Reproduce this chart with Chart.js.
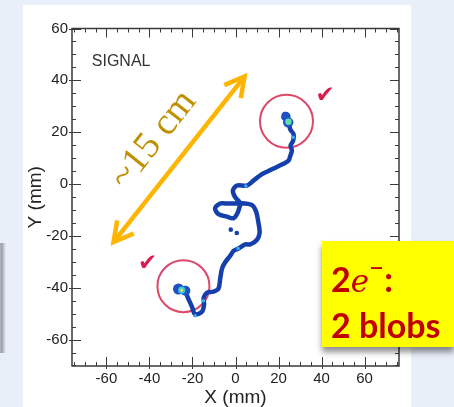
<!DOCTYPE html>
<html>
<head>
<meta charset="utf-8">
<script src="https://cdn.jsdelivr.net/npm/chart.js@4.4.1/dist/chart.umd.min.js"></script>
<style>
  html, body { margin: 0; padding: 0; }
  body { width: 454px; height: 407px; background: #e9eff9; position: relative; overflow: hidden; }
  .panel { position: absolute; left: 23px; top: 5px; width: 388px; height: 402px; background: #fff; }
  .edge { position: absolute; left: 0; top: 243px; width: 6px; height: 110px;
    background: linear-gradient(to right, #b4b8be, #9ca0a6 30%, #d6dbe3 80%, #e9eff9); }
  #wrap { position: absolute; left: 0; top: 0; width: 454px; height: 407px; }
  .note { position: absolute; left: 322px; top: 241px; width: 132px; height: 106px; box-sizing: border-box;
    background: #ffff00; box-shadow: 0 5px 6px rgba(0, 0, 0, 0.45);
    padding: 7px 0 0 9px; font: bold 34px/44px Lato, sans-serif; color: #c00000; white-space: nowrap; }
  .note i { font-family: 'DejaVu Serif', serif; font-weight: normal; font-size: 31px; }
  .note sup { font-size: 26px; font-weight: normal; position: relative; top: -3px; }
</style>
</head>
<body>
<div class="panel"></div>
<div class="edge"></div>
<div id="wrap"><canvas id="trackChart" width="454" height="407"></canvas></div>
<div class="note">2<i>e</i><sup>−</sup>:<br>2 blobs</div>

<script>
const xTicks = [-60, -40, -20, 0, 20, 40, 60]
const yTicks = [-60, -40, -20, 0, 20, 40, 60]
const xRange = [-76, 76]
const yRange = [-70.2, 60]

// track (mm), lower blob -> upper blob
const trackX = [-25.0, -23.4, -21.9, -20.3, -18.8, -15.6, -14.6, -14.8, -13.2, -10.2, -7.9, -7.1, -6.3, -4.8, -2.5, -0.9,
  1.4, 4.5, 6.8, 9.9, 11.2, 10.7, 9.6, 7.8, 4.5, -0.2, -4.8, -7.1, -9.5, -7.9, -4.0, -0.9, 0.9, 1.9, 2.2, -0.2, -1.2, 0.6,
  5.3, 8.6, 12.3, 15.3, 19.2, 22.3, 24.7, 25.4, 26.2, 25.6, 26.8, 27.0, 25.5, 25.0, 24.6, 23.6, 22.8]
const trackY = [-40.9, -41.5, -44.3, -47.2, -50.2, -49.3, -46.5, -43.8, -41.9, -41.5, -40.3, -36.5, -32.7, -30.2, -27.7, -25.8,
  -24.9, -23.3, -23.3, -21.6, -18.9, -15.1, -10.7, -8.2, -7.5, -7.5, -7.5, -7.5, -9.4, -11.6, -12.6, -13.2, -11.3, -8.8, -7.3, -5.0, -2.5, -0.6,
  -0.6, 1.5, 3.8, 5.0, 6.6, 7.8, 9.1, 10.7, 12.9, 14.8, 16.7, 19.2, 21.0, 22.8, 24.0, 25.8, 27.0]

// loose deposits next to the track
const dotX = [-2.2, 0.6]
const dotY = [-17.6, -18.9]

// blobs: blue body, cyan ring, hot core
const blobOuterX = [-26.5, -23.3, 23.4, 24.5]
const blobOuterY = [-40.5, -41.2, 26.0, 23.8]
const blobInnerX = [-25.0, 24.6]
const blobInnerY = [-40.9, 24.0]
const blobCoreX = [-25.0]
const blobCoreY = [-40.9]
const speckX = [-18.8, 1.2, 4.8, 26.8, -14.9]
const speckY = [-50.8, -24.9, -0.8, 18.0, -45.0]

// annotations
const circleX = [-24.2, 23.7]
const circleY = [-39.4, 24.2]
const checkX = [-40.8, 41.7]
const checkY = [-30.8, 34.0]
const arrowX = [-56.7, 4.2]
const arrowY = [-22.4, 41.5]
const arrowLabel = '~15 cm'
const arrowLabelPos = [-38.0, 17.0]
const signalText = 'SIGNAL'
const signalPos = [-66.8, 47.2]

const pts = (xs, ys) => xs.map((v, i) => ({ x: v, y: ys[i] }))

const overlay = {
  id: 'overlay',
  beforeDatasetsDraw(chart) {
    const { ctx, chartArea: a, scales: { x, y } } = chart
    ctx.save()
    ctx.strokeStyle = '#3a3a3a'
    ctx.lineWidth = 1.5
    ctx.strokeRect(a.left, a.top, a.right - a.left, a.bottom - a.top)
    ctx.lineWidth = 1
    ctx.beginPath()
    // ticks every 5 mm, long ones on the labelled values
    for (let v = Math.ceil(xRange[0] / 5) * 5; v <= xRange[1]; v += 5) {
      const px = Math.round(x.getPixelForValue(v)) + 0.5
      const major = xTicks.includes(v)
      const len = major ? 9 : 4
      ctx.moveTo(px, a.bottom + (major ? 3 : 0))
      ctx.lineTo(px, a.bottom - len)
      ctx.moveTo(px, a.top)
      ctx.lineTo(px, a.top + len)
    }
    for (let v = Math.ceil(yRange[0] / 5) * 5; v <= yRange[1]; v += 5) {
      const py = Math.round(y.getPixelForValue(v)) + 0.5
      const major = yTicks.includes(v)
      const len = major ? 9 : 4
      ctx.moveTo(a.left - (major ? 3 : 0), py)
      ctx.lineTo(a.left + len, py)
      ctx.moveTo(a.right, py)
      ctx.lineTo(a.right - len, py)
    }
    ctx.stroke()

    ctx.font = '16px "Liberation Sans"'
    ctx.fillStyle = '#333'
    ctx.textAlign = 'left'
    ctx.textBaseline = 'middle'
    ctx.fillText(signalText, x.getPixelForValue(signalPos[0]), y.getPixelForValue(signalPos[1]))
    ctx.restore()
  },
  afterDatasetsDraw(chart) {
    const { ctx, scales: { x, y } } = chart
    const p0 = [x.getPixelForValue(arrowX[0]), y.getPixelForValue(arrowY[0])]
    const p1 = [x.getPixelForValue(arrowX[1]), y.getPixelForValue(arrowY[1])]
    const ang = Math.atan2(p1[1] - p0[1], p1[0] - p0[0])
    ctx.save()
    ctx.strokeStyle = '#ffb400'
    ctx.lineWidth = 4.5
    ctx.lineJoin = 'miter'
    ctx.beginPath()
    ctx.moveTo(p0[0] + 2 * Math.cos(ang), p0[1] + 2 * Math.sin(ang))
    ctx.lineTo(p1[0] - 2 * Math.cos(ang), p1[1] - 2 * Math.sin(ang))
    ctx.stroke()
    const head = (tip, dir) => {
      const arm = 22
      ctx.beginPath()
      ctx.moveTo(tip[0] - arm * Math.cos(dir - 0.5), tip[1] - arm * Math.sin(dir - 0.5))
      ctx.lineTo(tip[0], tip[1])
      ctx.lineTo(tip[0] - arm * Math.cos(dir + 0.5), tip[1] - arm * Math.sin(dir + 0.5))
      ctx.stroke()
    }
    head(p1, ang)
    head(p0, ang + Math.PI)

    ctx.translate(x.getPixelForValue(arrowLabelPos[0]), y.getPixelForValue(arrowLabelPos[1]))
    ctx.rotate(ang)
    ctx.font = '38px "Liberation Serif"'
    ctx.fillStyle = '#bf9000'
    ctx.textAlign = 'center'
    ctx.textBaseline = 'middle'
    ctx.fillText(arrowLabel, 0, 0)
    ctx.restore()

    ctx.save()
    ctx.font = '23px "DejaVu Sans"'
    ctx.fillStyle = '#d81e4f'
    ctx.textAlign = 'center'
    ctx.textBaseline = 'middle'
    checkX.forEach((v, i) => ctx.fillText('✔', x.getPixelForValue(v), y.getPixelForValue(checkY[i])))
    ctx.restore()
  }
}

new Chart(document.getElementById('trackChart'), {
  type: 'scatter',
  data: {
    datasets: [
      { data: pts(blobCoreX, blobCoreY), pointRadius: 1.6, pointBorderWidth: 0, pointBackgroundColor: '#f0e040' },
      { data: pts(blobInnerX, blobInnerY), pointRadius: [3.6, 3.2], pointBorderWidth: 0, pointBackgroundColor: ['#35c8e0', '#5ee0a8'] },
      { data: pts(blobOuterX, blobOuterY), pointRadius: [5.5, 5, 4.8, 5.2], pointBorderWidth: 0, pointBackgroundColor: '#1e52c4' },
      { data: pts(speckX, speckY), pointRadius: 1.8, pointBorderWidth: 0, pointBackgroundColor: '#3fa8ec' },
      {
        data: pts(trackX, trackY),
        showLine: true,
        borderColor: '#1540ac',
        borderWidth: 4.5,
        borderCapStyle: 'round',
        borderJoinStyle: 'round',
        tension: 0.3,
        pointRadius: 0
      },
      { data: pts(dotX, dotY), pointRadius: 2.3, pointBorderWidth: 0, pointBackgroundColor: '#1540ac' },
      {
        data: pts(circleX, circleY),
        pointRadius: [26, 26.5],
        pointBorderWidth: 2,
        pointBorderColor: 'rgba(214, 40, 80, 0.85)',
        pointBackgroundColor: 'rgba(0, 0, 0, 0)'
      }
    ]
  },
  options: {
    responsive: false,
    animation: false,
    layout: { padding: { top: 21, right: 55, bottom: 0, left: 0 } },
    plugins: {
      legend: { display: false },
      tooltip: { enabled: false }
    },
    scales: {
      x: {
        type: 'linear',
        min: xRange[0],
        max: xRange[1],
        afterBuildTicks: s => { s.ticks = xTicks.map(v => ({ value: v })) },
        afterFit: s => { s.height = 41 },
        grid: { display: false, drawTicks: false },
        border: { display: false },
        ticks: {
          padding: 4,
          color: '#222',
          font: { family: 'Liberation Sans', size: 15 },
          callback: v => String(v)
        },
        title: {
          display: true,
          text: 'X (mm)',
          color: '#222',
          padding: 0,
          font: { family: 'Liberation Sans', size: 19, lineHeight: 1 }
        }
      },
      y: {
        type: 'linear',
        min: yRange[0],
        max: yRange[1],
        afterBuildTicks: s => { s.ticks = yTicks.map(v => ({ value: v })) },
        afterFit: s => { s.width = 72 },
        grid: { display: false, drawTicks: false },
        border: { display: false },
        ticks: {
          padding: 4,
          color: '#222',
          font: { family: 'Liberation Sans', size: 15 },
          callback: v => String(v)
        },
        title: {
          display: true,
          text: 'Y (mm)',
          color: '#222',
          padding: { top: 26, bottom: 0 },
          font: { family: 'Liberation Sans', size: 19, lineHeight: 1 }
        }
      }
    }
  },
  plugins: [overlay]
})
</script>
</body>
</html>
